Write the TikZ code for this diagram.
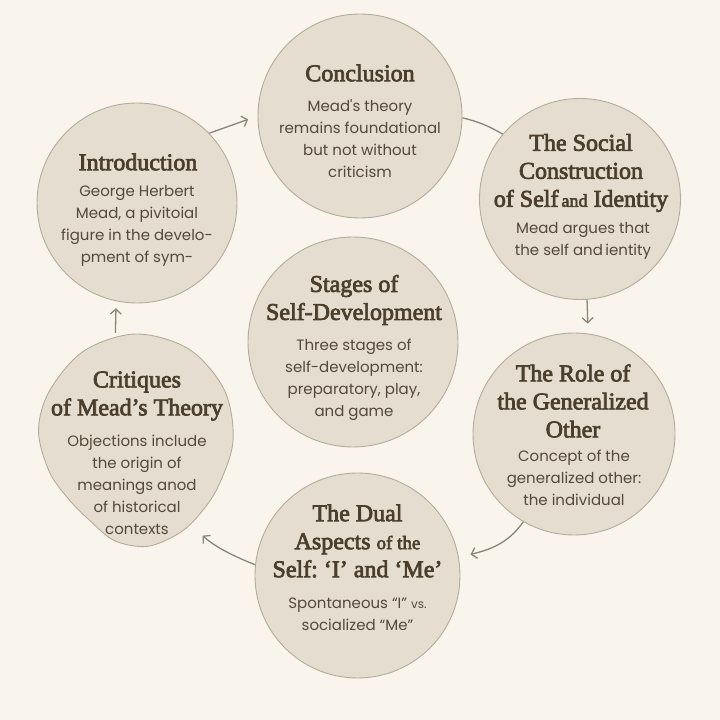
\documentclass[tikz,border=0pt]{standalone}
\usepackage{fontspec}
\setmainfont{Liberation Serif}
\newfontfamily\titlefont{Liberation Serif}[FakeBold=3]
\newfontfamily\bodyfont{Poppins}
\usetikzlibrary{arrows.meta,calc}
\definecolor{bg}{HTML}{FAF5EC}
\definecolor{bubblefill}{HTML}{E5DDCF}
\definecolor{bubbleline}{HTML}{B5AB9A}
\definecolor{titlecol}{HTML}{4B3E2D}
\definecolor{bodycol}{HTML}{54493B}
\definecolor{linkcol}{HTML}{8C8477}
\begin{document}
\begin{tikzpicture}[x=1pt,y=1pt]
\tikzset{
 bubble/.style={circle, fill=bubblefill, draw=bubbleline, line width=0.9pt, inner sep=0pt, minimum size=#1},
 blobshape/.style={fill=bubblefill, draw=bubbleline, line width=0.9pt},
 ghost/.style={circle, inner sep=0pt, minimum size=#1},
 ttl/.style={font=\titlefont\fontsize{24}{28}\selectfont\frenchspacing, text=titlecol, align=center, inner sep=0pt},
 bdy/.style={font=\bodyfont\fontsize{15}{22}\selectfont\frenchspacing, text=bodycol, align=center, inner sep=0pt},
 link/.style={draw=linkcol, line width=1.3pt, -{Straight Barb[length=5pt,width=11pt]}},
 plainlink/.style={draw=linkcol, line width=1.3pt},
}
\useasboundingbox (0,0) rectangle (720,720);
\fill[bg] (0,0) rectangle (720,720);

% bubbles
\node[bubble=204pt] (concl) at (360,604) {};
\node[bubble=200pt] (intro) at (137,517) {};
\node[bubble=201pt] (social) at (580,521) {};
\node[bubble=210pt] (stages) at (353,378) {};
\node[bubble=202pt] (role) at (574,286) {};
\node[bubble=205pt] (dual) at (357.5,144.5) {};
% irregular "Critiques" bubble
\draw[blobshape] plot[smooth cycle, tension=0.55] coordinates {
 (233,279) (224.3,330) (189,370.8) (136,386) (84,369.1) (49.4,329)
 (38.5,289.2) (49,249) (67.8,221.8) (90,199.3) (114.8,179.2)
 (147.1,173.6) (177.5,185.8) (197.4,203.2) (217.4,232)};
\node[ghost=200pt] (crit) at (136,279) {};

% texts
\node[ttl] (conclT) at (360,647) {Conclusion};
\node[bdy] (conclB) at (360,581) {Mead's theory\\remains foundational\\but not without\\criticism};

\node[ttl] (introT) at (138,558) {Introduction};
\node[bdy] (introB) at (137,494) {George Herbert\\Mead, a pivitoial\\figure in the develo-\\pment of sym-};

\node[ttl] (socialT) at (581,547) {The Social\\Construction\\of Self{\fontsize{18}{28}\selectfont\,and} Identity};
\node[bdy] (socialB) at (583,479) {Mead argues that\\the self and\,ientity};

\node[ttl] (stagesT) at (354,420) {Stages of\\Self-Development};
\node[bdy] (stagesB) at (354,340) {Three stages of\\self-development:\\preparatory, play,\\and game};

\node[ttl] (roleT) at (573,319) {The Role of\\the Generalized\\Other};
\node[bdy] (roleB) at (574,242) {Concept of the\\generalized other:\\the individual};

\node[ttl] (dualT) at (357.5,179) {The Dual\\Aspects {\fontsize{19}{28}\selectfont of the}\\Self: ‘I’ and ‘Me’};
\node[bdy] (dualB) at (357.5,106) {Spontaneous “I” {\fontsize{12}{22}\selectfont vs.}\\socialized “Me”};

\node[ttl] (critT) at (137,324) {Critiques\\of Mead’s Theory};
\node[bdy] (critB) at (137,235) {Objections include\\the origin of\\meanings anod\\of historical\\contexts};

% connectors
\draw[link, shorten >=10pt] (intro.44) -- (concl.180);
\draw[plainlink] (concl.-1) to[bend left=8] (social.140);
\draw[link, shorten >=10pt] (social.-86) -- (role.82);
\draw[link, shorten >=12pt] (role.240) to[out=235,in=15] (dual.10);
\draw[link, shorten >=16pt] (dual.174) to[bend left=10] (crit.-57);
\draw[link, shorten <=10pt, shorten >=7pt] (crit.102) -- (intro.258);
\end{tikzpicture}
\end{document}
